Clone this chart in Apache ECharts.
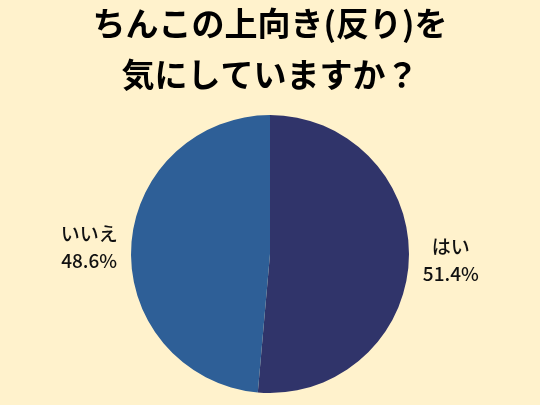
<!DOCTYPE html>
<html>
<head>
<meta charset="utf-8">
<script src="https://cdn.jsdelivr.net/npm/echarts@6/dist/echarts.min.js"></script>
<style>
  html, body { margin: 0; padding: 0; background: #FFF2CC; }
  #main { width: 540px; height: 405px; }
</style>
</head>
<body>
<div id="main"></div>
<script>
// 回答項目と割合
const answers = ['はい', 'いいえ']
const ratios = [51.4, 48.6]
const colors = ['#30346A', '#2E5F97']

let myChart = echarts.init(document.getElementById('main'))

let option = {
  backgroundColor: '#FFF2CC',
  title: {
    text: 'ちんこの上向き(反り)を\n気にしていますか？',
    left: 'center',
    top: -2,
    padding: 0,
    textStyle: {
      fontFamily: 'Noto Sans CJK JP',
      fontWeight: 'bold',
      fontSize: 33,
      lineHeight: 51,
      color: '#000',
    },
  },
  series: [
    {
      type: 'pie',
      center: [270, 254],
      radius: 139,
      startAngle: 90,
      clockwise: true,
      percentPrecision: 1,
      data: answers.map((name, i) => ({
        name: name,
        value: ratios[i],
        itemStyle: { color: colors[i] },
      })),
      label: {
        show: true,
        position: 'outside',
        formatter: '{t|{b}}\n{t|{d}%}',
        rich: {
          t: {
            width: 58,
            align: 'center',
            fontFamily: 'Noto Sans CJK JP',
            fontWeight: 500,
            fontSize: 19,
            lineHeight: 27,
            color: '#111',
          },
        },
      },
      labelLine: { show: false, length: 8, length2: 0 },
      emphasis: { disabled: true },
    },
  ],
}

myChart.setOption(option)
</script>
</body>
</html>
